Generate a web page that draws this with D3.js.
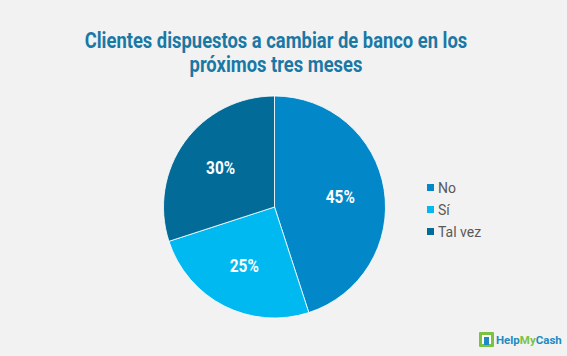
<!DOCTYPE html>
<html><head><meta charset="utf-8">
<script src="https://cdn.jsdelivr.net/npm/d3@7"></script>
<style>html,body{margin:0;padding:0;background:#f2f2f2;}</style>
</head><body>
<svg id="c" width="567" height="356"></svg>
<script>
const categories = ["No", "Sí", "Tal vez"];
const values = [45, 25, 30];
const colors = ["#0288c9", "#00b9f1", "#036b98"];
const titleLines = ["Clientes dispuestos a cambiar de banco en los", "próximos tres meses"];

const svg = d3.select("#c");
svg.append("rect").attr("width",567).attr("height",356).attr("fill","#f2f2f2");

const tg = svg.append("g");
titleLines.forEach((t,i)=>{
  tg.append("text").attr("x",276).attr("y",48+i*24)
    .attr("text-anchor","middle").attr("font-family","Roboto").attr("font-weight","bold")
    .attr("font-size",21.5).attr("fill","#1a78a5")
    .attr("transform",`translate(276,0) scale(0.855,1) translate(-276,0)`)
    .text(t);
});

const cx=274.5, cy=207, r=111;
const pie = d3.pie().sort(null).value(d=>d.v);
const arc = d3.arc().innerRadius(0).outerRadius(r);
const data = pie(categories.map((c,i)=>({c, v:values[i], col:colors[i]})));
const g = svg.append("g").attr("transform",`translate(${cx},${cy})`);
g.selectAll("path").data(data).join("path").attr("d",arc).attr("fill",d=>d.data.col)
  .attr("stroke","#ffffff").attr("stroke-width",0.8);
const lab = d3.arc().innerRadius(r*0.6).outerRadius(r*0.6);
g.selectAll("text").data(data).join("text")
  .attr("transform",d=>{const p=lab.centroid(d);return `translate(${p[0]},${p[1]}) scale(0.88,1)`;})
  .attr("text-anchor","middle").attr("dy","0.35em")
  .attr("font-family","Roboto").attr("font-weight","bold").attr("font-size",17.5).attr("fill","#ffffff")
  .text(d=>d.data.v+"%");

const lg = svg.append("g");
categories.forEach((c,i)=>{
  const y = 188 + i*22;
  lg.append("rect").attr("x",427).attr("y",y-4).attr("width",7).attr("height",7).attr("fill",colors[i]);
  lg.append("text").attr("x",438).attr("y",y).attr("dy","0.35em").attr("font-family","Roboto")
    .attr("font-size",14).attr("fill","#595959").text(c);
});

// logo
const lo = svg.append("g");
lo.append("rect").attr("x",479).attr("y",332).attr("width",15).attr("height",15).attr("fill","#7cc242").attr("rx",1);
lo.append("rect").attr("x",482).attr("y",335).attr("width",9).attr("height",9).attr("fill","#ffffff");
lo.append("rect").attr("x",484).attr("y",337).attr("width",5).attr("height",8).attr("fill","#1e8bc3");
const lt = lo.append("text").attr("x",496).attr("y",344).attr("font-family","Roboto").attr("font-weight","bold").attr("font-size",11.5);
lt.append("tspan").attr("fill","#1e8bc3").text("Help");
lt.append("tspan").attr("fill","#7cc242").text("My");
lt.append("tspan").attr("fill","#1e8bc3").text("Cash");
</script>
</body></html>
